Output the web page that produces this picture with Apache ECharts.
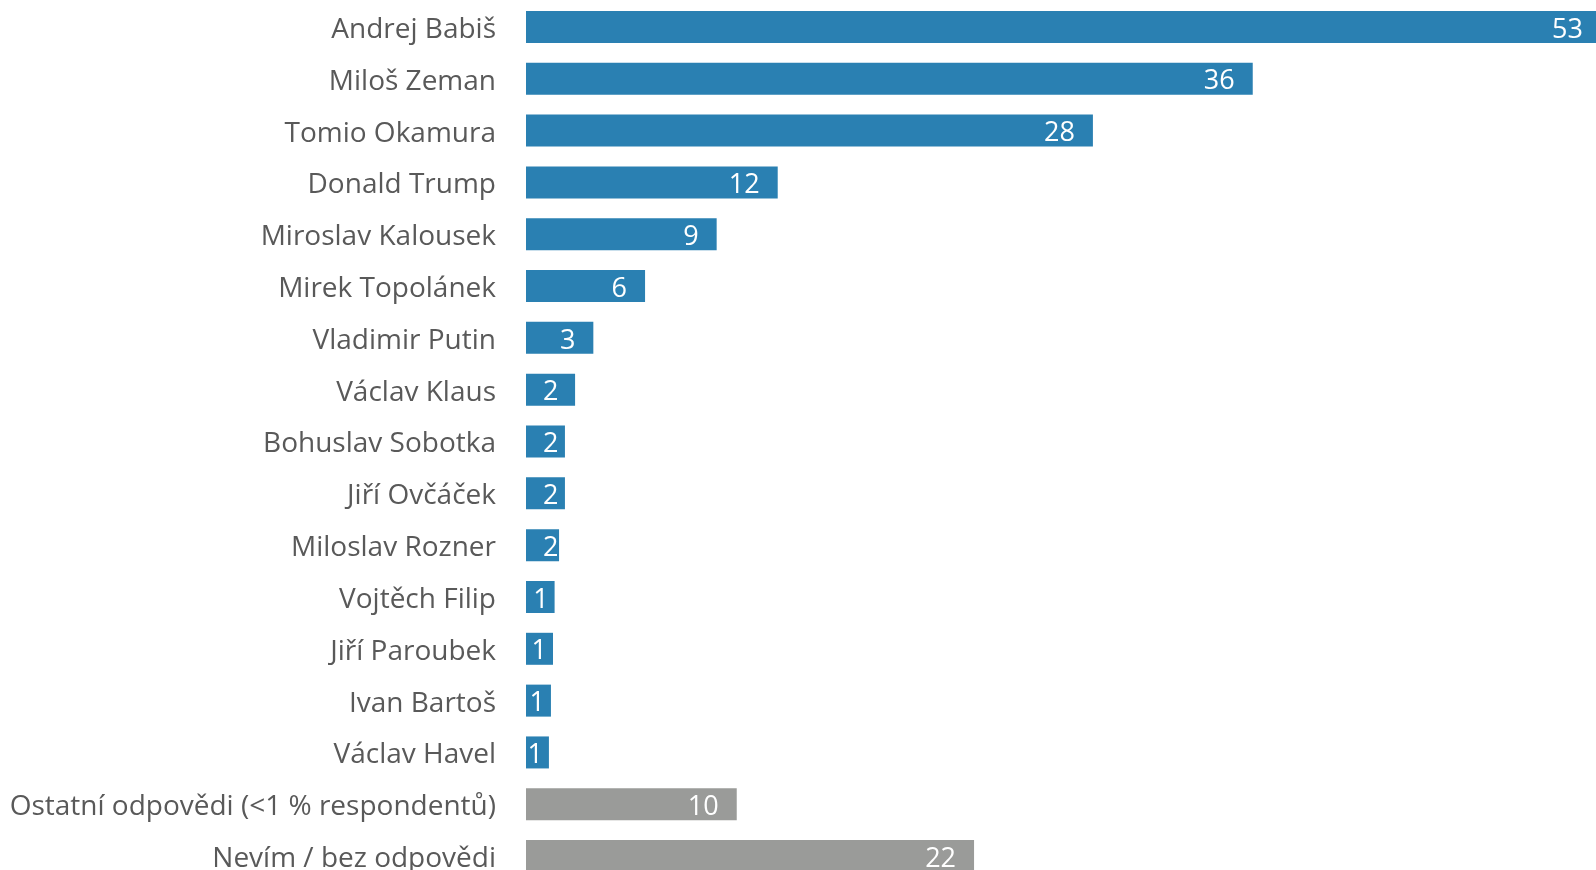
<!DOCTYPE html>
<html>
<head>
<meta charset="utf-8">
<script src="https://cdn.jsdelivr.net/npm/echarts@6/dist/echarts.min.js"></script>
<style>
  html, body { margin: 0; padding: 0; background: #ffffff; overflow: hidden; }
  #chart { width: 1601px; height: 882px; }
</style>
</head>
<body>
<div id="chart"></div>
<script>
var categories = [
  'Andrej Babiš', 'Miloš Zeman', 'Tomio Okamura', 'Donald Trump',
  'Miroslav Kalousek', 'Mirek Topolánek', 'Vladimir Putin', 'Václav Klaus',
  'Bohuslav Sobotka', 'Jiří Ovčáček', 'Miloslav Rozner', 'Vojtěch Filip',
  'Jiří Paroubek', 'Ivan Bartoš', 'Václav Havel',
  'Ostatní odpovědi (<1 % respondentů)', 'Nevím / bez odpovědi'
];
var values = [53.0, 35.83, 27.95, 12.41, 9.4, 5.87, 3.32, 2.42, 1.92, 1.92, 1.63, 1.41, 1.33, 1.23, 1.13, 10.39, 22.09];
var otherCount = 2; // last two categories are non-person answers (grey)

var BLUE = '#2a80b2';
var GREY = '#9a9b99';
var FONT = '"Open Sans", "Noto Sans", sans-serif';

var chart = echarts.init(document.getElementById('chart'));
chart.setOption({
  animation: false,
  backgroundColor: '#ffffff',
  grid: { left: 526, right: 0, top: 1, bottom: 0, containLabel: false },
  xAxis: {
    type: 'value', min: 0, max: 53,
    show: false
  },
  yAxis: {
    type: 'category', inverse: true, data: categories,
    axisLine: { show: false }, axisTick: { show: false },
    axisLabel: {
      margin: 30,
      formatter: function (v) { return '{a|' + v + '}'; },
      rich: {
        a: { fontSize: 28, color: '#595959', fontFamily: FONT, padding: [6, 0, 0, 0] }
      }
    }
  },
  series: [{
    type: 'bar',
    data: values,
    barWidth: 32,
    itemStyle: {
      color: function (p) { return p.dataIndex >= categories.length - otherCount ? GREY : BLUE; }
    },
    label: {
      show: true, position: 'insideRight', distance: 18,
      color: '#ffffff', fontSize: 27, fontFamily: FONT,
      formatter: function (p) { return String(Math.round(p.value)); }
    },
    labelLayout: function (p) {
      var r = p.rect, w = p.labelRect.width;
      var end = r.x + r.width;
      var right = Math.max(end - 18, r.x + 17 + w);
      if (right > end) right = end - 6;
      return { x: right, y: r.y + r.height / 2 + 3, align: 'right', verticalAlign: 'middle' };
    }
  }]
});
</script>
</body>
</html>
